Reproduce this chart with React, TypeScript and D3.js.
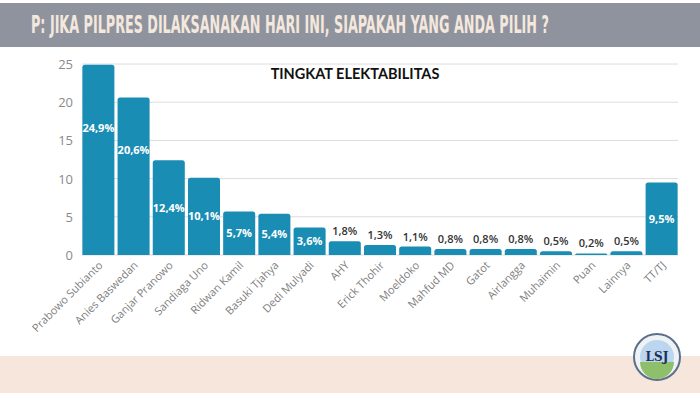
import * as d3 from 'd3';
import { useEffect, useRef } from 'react';

const W = 700;
const H = 393;

const candidates = [
  'Prabowo Subianto',
  'Anies Baswedan',
  'Ganjar Pranowo',
  'Sandiaga Uno',
  'Ridwan Kamil',
  'Basuki Tjahya',
  'Dedi Mulyadi',
  'AHY',
  'Erick Thohir',
  'Moeldoko',
  'Mahfud MD',
  'Gatot',
  'Airlangga',
  'Muhaimin',
  'Puan',
  'Lainnya',
  'TT/TJ',
];
const electability = [24.9, 20.6, 12.4, 10.1, 5.7, 5.4, 3.6, 1.8, 1.3, 1.1, 0.8, 0.8, 0.8, 0.5, 0.2, 0.5, 9.5];
const yTicks = [0, 5, 10, 15, 20, 25];

const titleText = 'P: JIKA PILPRES DILAKSANAKAN HARI INI, SIAPAKAH YANG ANDA PILIH ?';
const chartTitle = 'TINGKAT ELEKTABILITAS';

const barColor = '#1a8db4';

// bar with rounded top corners only
function topRoundedRect(x: number, y: number, w: number, h: number, r: number) {
  const rr = Math.min(r, h, w / 2);
  return `M${x},${y + h}V${y + rr}Q${x},${y} ${x + rr},${y}H${x + w - rr}Q${x + w},${y} ${x + w},${y + rr}V${y + h}Z`;
}

export default function App() {
  const titleRef = useRef<SVGTextElement | null>(null);

  // squeeze the header into a condensed look by measuring it
  useEffect(() => {
    const el = titleRef.current;
    if (!el) return;
    const natural = el.getComputedTextLength();
    const target = 518;
    if (natural > 0) {
      d3.select(el).attr('transform', `translate(31,33) scale(${target / natural},1)`);
    }
  }, []);

  const x = d3.scaleBand<string>().domain(candidates).range([82, 678]).paddingInner(0.09).paddingOuter(0.01);
  const y = d3.scaleLinear().domain([0, 25]).range([255, 64]);

  const fmt = (v: number) => v.toFixed(1).replace('.', ',') + '%';

  return (
    <svg
      width={W}
      height={H}
      style={{ position: 'absolute', left: 0, top: 0, background: '#fff' }}
      fontFamily="'Open Sans', sans-serif"
    >
      {/* header banner */}
      <rect x={0} y={3} width={W} height={44} fill="#8f939e" />
      <text
        ref={titleRef}
        transform="translate(31,33) scale(0.6,1)"
        fontFamily="'DejaVu Sans Condensed', 'DejaVu Sans', sans-serif"
        fontWeight="bold"
        fontSize={25}
        fill="#f4e8dd"
      >
        {titleText}
      </text>

      {/* bottom band */}
      <rect x={0} y={356} width={W} height={H - 356} fill="#f6e6db" />

      {/* gridlines + y ticks */}
      {yTicks.map((t) => (
        <g key={t}>
          <line x1={82} x2={678} y1={y(t)} y2={y(t)} stroke="#dcdcdc" strokeWidth={1} />
          <text x={73} y={y(t) + 5} textAnchor="end" fontSize={13} fill="#8a8a8a">
            {t}
          </text>
        </g>
      ))}

      <text x={355} y={79} textAnchor="middle" fontSize={14.5} fontWeight="bold" fill="#111" fontFamily="'Lato', 'Open Sans', sans-serif">
        {chartTitle}
      </text>

      {/* bars */}
      {candidates.map((c, i) => {
        const v = electability[i];
        const bx = x(c) ?? 0;
        const bw = x.bandwidth();
        const top = y(v);
        const inside = v >= 3;
        const cx = bx + bw / 2;
        const labelY = inside ? y(v >= 15 ? v * 0.67 : v * 0.5) + 4 : top - 6;
        return (
          <g key={c}>
            <path d={topRoundedRect(bx, top, bw, y(0) - top, 2.5)} fill={barColor} />
            <text
              x={cx}
              y={labelY}
              textAnchor="middle"
              fontSize={11}
              fontWeight={inside ? 700 : 600}
              fill={inside ? '#ffffff' : '#333'}
            >
              {fmt(v)}
            </text>
            <text
              transform={`translate(${cx + 5},${y(0) + 11}) rotate(-45)`}
              textAnchor="end"
              fontSize={11}
              fill="#808080"
            >
              {c}
            </text>
          </g>
        );
      })}

      {/* logo */}
      <g transform="translate(657,357)">
        <circle r={23} fill="#eef2f5" stroke="#5b6f8a" strokeWidth={2} />
        <circle r={17} fill="#bcd6ef" />
        <path d="M-17,5 A17,17 0 0 0 17,5 Z" fill="#8fbf6a" />
        <text y={4} textAnchor="middle" fontSize={12} fontWeight="bold" fill="#1f2f55" fontFamily="'DejaVu Serif', serif">
          LSJ
        </text>
      </g>
    </svg>
  );
}
